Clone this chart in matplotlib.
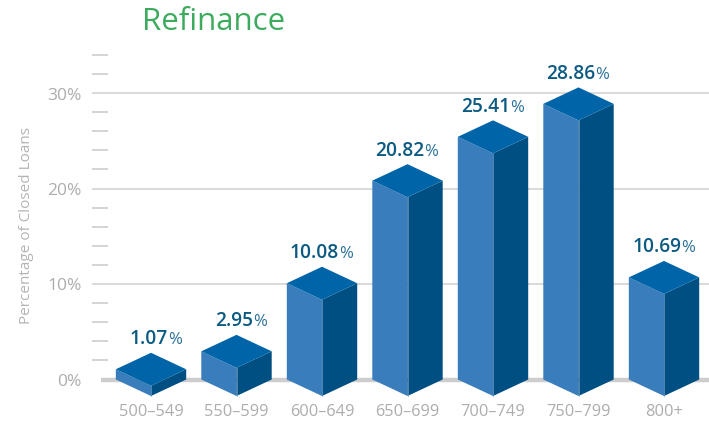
import matplotlib
matplotlib.use("Agg")
import matplotlib.pyplot as plt
from matplotlib.patches import Polygon

categories = ["500–549", "550–599", "600–649", "650–699", "700–749", "750–799", "800+"]
values = [1.07, 2.95, 10.08, 20.82, 25.41, 28.86, 10.69]
major_ticks = [0, 10, 20, 30]
minor_ticks = [2, 4, 6, 8, 12, 14, 16, 18, 22, 24, 26, 28, 32, 34]
title = "Refinance"
ylabel = "Percentage of Closed Loans"

W, H = 709, 424
X0, DX = 151.0, 85.5      # pixel of first category, pixels per category
Y0, DY = 379.5, 9.55      # pixel of 0 %, pixels per 1 %
HALF = 35.2 / DX
DEPTH = 16.5 / DY

plt.rcParams["font.family"] = ["Open Sans", "DejaVu Sans"]
fig = plt.figure(figsize=(W / 100, H / 100), dpi=100)
ax = fig.add_axes([0, 0, 1, 1])
ax.set_xlim(-X0 / DX, (W - X0) / DX)
ax.set_ylim((Y0 - H) / DY, Y0 / DY)
ax.axis("off")

def px(x):
    return (x - X0) / DX

GRAY = "#adadad"
for t in minor_ticks:
    ax.plot([px(92), px(108)], [t, t], color="#c9c9c9", lw=1.1, solid_capstyle="butt", zorder=1)
for t in major_ticks[1:]:
    ax.plot([px(92), px(W)], [t, t], color="#cfcfcf", lw=1.1, solid_capstyle="butt", zorder=1)
ax.plot([px(101), px(W)], [0, 0], color="#cdcdcd", lw=3.2, solid_capstyle="butt", zorder=1)

for t in major_ticks:
    ax.text(px(82), t - 2.5 / DY, f"{t}%", ha="right", va="center", color=GRAY, fontsize=12.5, zorder=3)

for i, (c, v) in enumerate(zip(categories, values)):
    l, r = i - HALF, i + HALF
    ax.add_patch(Polygon([(l, 0), (i, -DEPTH), (i, v - DEPTH), (l, v)], fc="#3a7dbc", ec="none", zorder=2))
    ax.add_patch(Polygon([(i, -DEPTH), (r, 0), (r, v), (i, v - DEPTH)], fc="#004f82", ec="none", zorder=2))
    ax.add_patch(Polygon([(l, v), (i, v + DEPTH), (r, v), (i, v - DEPTH)], fc="#0065a8", ec="none", zorder=2.1))
    ax.plot([i, i], [-DEPTH, v - DEPTH], color="#6f9cc4", lw=0.5, zorder=2.05)
    ax.text(i, (Y0 - 412) / DY, c, ha="center", va="center", color=GRAY, fontsize=11.8, zorder=3)
    # value label: bold number followed by a lighter percent sign
    ty = v + DEPTH + 8.5 / DY
    ax.text(i + 0.2, ty, f"{v:.2f}", ha="right", va="baseline", color="#0b5a82",
            fontsize=13.8, fontweight=600, zorder=3)
    ax.text(i + 0.2, ty, "%", ha="left", va="baseline", color="#2a7099",
            fontsize=12, zorder=3)

ax.text(px(142), (Y0 - 30) / DY, title, ha="left", va="baseline", color="#3dab5e",
        fontsize=22.5, zorder=3)
ax.text(px(27), (Y0 - 226) / DY, ylabel, rotation=90, ha="center", va="center",
        color="#b4b4b4", fontsize=11, zorder=3)

fig.savefig("out.png", dpi=100)
